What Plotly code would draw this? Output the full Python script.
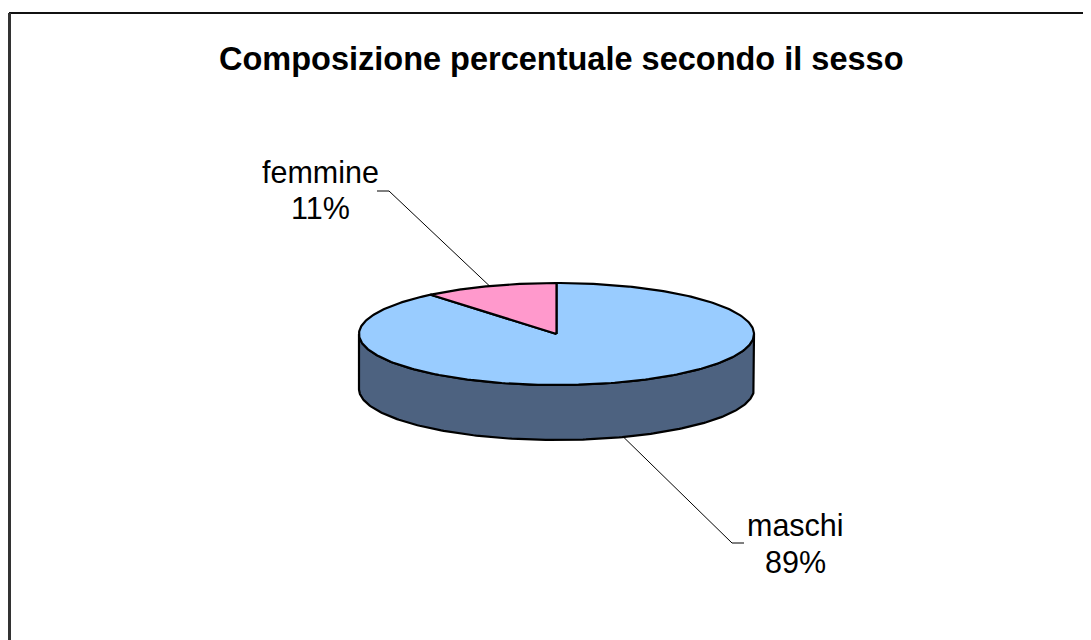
import numpy as np
import plotly.graph_objects as go

# ---- data ----
categories = ["maschi", "femmine"]
percent = [89, 11]
top_colors = ["#99CCFF", "#FF99CC"]
side_colors = ["#4D6280", "#995C7A"]
title_text = "Composizione percentuale secondo il sesso"

# ---- geometry (page pixel space) ----
W, H = 1091, 640
OFF = 8  # default page body margin
cx, cy, rx, ry, depth = 556.5, 334.0, 197.5, 51.0, 55.0
FONT = "Arial, Liberation Sans, sans-serif"
LABEL_SIZE = 30.5
TITLE_SIZE = 32.5
# label anchor: (x center, baseline of first line, baseline of second line)
label_pos = {"femmine": (320, 184, 220), "maschi": (795, 537, 574)}
elbow = {"femmine": ((389, 191), (377, 191)), "maschi": ((732, 543), (744, 543))}


def ell(theta_deg, dy=0.0):
    t = np.radians(theta_deg)
    return cx + rx * np.cos(t), cy - ry * np.sin(t) + dy


fig = go.Figure()

# slice angles: start at 12 o'clock, clockwise
total = float(sum(percent))
angles = []
a = 90.0
for v in percent:
    a1 = a - 360.0 * v / total
    angles.append((a1, a))
    a = a1

# side walls (visible front half: sin(t) < 0)
for (a1, a0), col in zip(angles, side_colors):
    for k in (-1, 0, 1):
        lo, hi = -180 + 360 * k, 0 + 360 * k
        s, e = max(a1, lo), min(a0, hi)
        if e - s <= 0.01:
            continue
        ts = np.linspace(s, e, 200)
        xt, yt = ell(ts)
        xb, yb = ell(ts[::-1], depth)
        xs = np.concatenate([xt, xb, xt[:1]])
        ys = np.concatenate([yt, yb, yt[:1]])
        fig.add_trace(go.Scatter(x=xs, y=ys, mode="lines", fill="toself",
                                 fillcolor=col, line=dict(color="black", width=2.2),
                                 hoverinfo="skip"))

# top faces
for (a1, a0), col, name, v in zip(angles, top_colors, categories, percent):
    ts = np.linspace(a0, a1, 300)
    xa, ya = ell(ts)
    xs = np.concatenate([[cx], xa, [cx]])
    ys = np.concatenate([[cy], ya, [cy]])
    fig.add_trace(go.Scatter(x=xs, y=ys, mode="lines", fill="toself",
                             fillcolor=col, line=dict(color="black", width=2.2),
                             name=name, hoverinfo="name"))

# leader lines and labels
for (a1, a0), name, v in zip(angles, categories, percent):
    mid = (a0 + a1) / 2.0
    front = np.sin(np.radians(mid)) < 0
    ax_, ay_ = ell(mid, depth if front else 0.0)
    (ex, ey), (hx, hy) = elbow[name]
    fig.add_trace(go.Scatter(x=[ax_, ex, hx], y=[ay_, ey, hy], mode="lines",
                             line=dict(color="black", width=1), hoverinfo="skip"))
    lx, b1, b2 = label_pos[name]
    for txt, base in ((name, b1), (f"{v}%", b2)):
        fig.add_annotation(x=lx, y=base - 0.38 * LABEL_SIZE, xref="x", yref="y", text=txt,
                           showarrow=False, xanchor="center", yanchor="middle",
                           font=dict(family=FONT, size=LABEL_SIZE, color="black"))

fig.add_annotation(x=561, y=72 - 0.4 * TITLE_SIZE, xref="x", yref="y",
                   text=f"<b>{title_text}</b>",
                   showarrow=False, xanchor="center", yanchor="middle",
                   font=dict(family=FONT, size=TITLE_SIZE, color="black"))

# outer border (cropped on right/bottom)
fig.add_shape(type="line", x0=9, y0=13, x1=W + 20, y1=13, xref="x", yref="y",
              line=dict(color="#111111", width=2))
fig.add_shape(type="line", x0=9.5, y0=13, x1=9.5, y1=H + 20, xref="x", yref="y",
              line=dict(color="#333333", width=3))

fig.update_layout(
    width=W, height=H,
    margin=dict(l=0, r=0, t=0, b=0),
    paper_bgcolor="white", plot_bgcolor="white",
    showlegend=False,
    xaxis=dict(range=[OFF, W + OFF], visible=False, fixedrange=True),
    yaxis=dict(range=[H + OFF, OFF], visible=False, fixedrange=True),
)

fig.write_html("out.html")
